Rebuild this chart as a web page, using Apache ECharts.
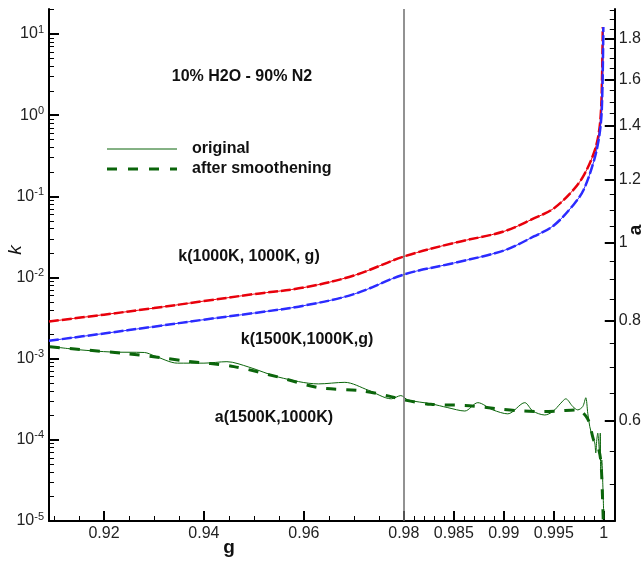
<!DOCTYPE html>
<html><head><meta charset="utf-8">
<script src="https://cdn.jsdelivr.net/npm/echarts@6/dist/echarts.min.js"></script>
<style>html,body{margin:0;padding:0;background:#fff}#c{width:644px;height:562px}</style>
</head><body><div id="c"></div>
<script>
// ---- data ----
const gRed = [0.909, 0.92, 0.93, 0.94, 0.95, 0.96, 0.97, 0.98, 0.985, 0.99, 0.993, 0.995, 0.997, 0.998, 0.999, 0.9995, 0.99973, 0.99983, 0.9999];
const kRed = [2.87e-3, 3.49e-3, 4.20e-3, 5.13e-3, 6.25e-3, 7.53e-3, 1.059e-2, 1.816e-2, 2.667e-2, 3.698e-2, 5.346e-2, 7.112e-2, 0.1219, 0.1816, 0.3396, 0.5998, 1.186, 3.027, 12.19];
const gBlue = [0.909, 0.92, 0.93, 0.94, 0.95, 0.96, 0.97, 0.98, 0.985, 0.99, 0.993, 0.995, 0.997, 0.998, 0.999, 0.9995, 0.99975, 0.99985, 0.99992, 0.99996];
const kBlue = [1.66e-3, 2.046e-3, 2.483e-3, 3.027e-3, 3.648e-3, 4.508e-3, 6.237e-3, 1.089e-2, 1.510e-2, 2.153e-2, 3.206e-2, 4.385e-2, 7.96e-2, 0.1219, 0.2704, 0.5058, 0.918, 1.766, 4.909, 12.19];
const gAOrig = [0.9092, 0.9148, 0.9215, 0.9281, 0.9301, 0.9347, 0.9400, 0.9446, 0.9490, 0.9550, 0.9629, 0.9682, 0.9729, 0.9775, 0.9794, 0.9804, 0.9827, 0.9844, 0.9861, 0.9874, 0.9889, 0.9904, 0.9921, 0.9929, 0.9941, 0.9949, 0.9957, 0.9962, 0.9969, 0.9974, 0.9979, 0.9982, 0.9984, 0.9986, 0.9989, 0.9991, 0.9992, 0.9993, 0.9994, 0.9995, 0.9996, 0.99965, 0.9997, 0.9998, 0.9999, 1.0000];
const aOrig = [0.743, 0.736, 0.731, 0.730, 0.723, 0.708, 0.708, 0.711, 0.700, 0.680, 0.667, 0.670, 0.655, 0.639, 0.645, 0.637, 0.630, 0.623, 0.617, 0.632, 0.619, 0.612, 0.632, 0.617, 0.610, 0.616, 0.631, 0.639, 0.625, 0.619, 0.625, 0.641, 0.613, 0.590, 0.571, 0.563, 0.547, 0.568, 0.579, 0.563, 0.541, 0.579, 0.521, 0.536, 0.502, 0.456];
const gASmooth = [0.9092, 0.9241, 0.9315, 0.9367, 0.9460, 0.9550, 0.9629, 0.9715, 0.9775, 0.9800, 0.9827, 0.9861, 0.9894, 0.9919, 0.9939, 0.9954, 0.9974, 0.9984, 0.9990, 0.9994, 0.9997, 0.99985, 0.99995];
const aSmooth = [0.742, 0.728, 0.719, 0.712, 0.701, 0.680, 0.660, 0.654, 0.643, 0.637, 0.629, 0.627, 0.621, 0.617, 0.616, 0.617, 0.619, 0.603, 0.567, 0.558, 0.535, 0.491, 0.450];
const xMajorTicks = [0.92, 0.94, 0.96, 0.98, 0.985, 0.99, 0.995, 1];
const kMajorExp = [-5, -4, -3, -2, -1, 0, 1];
const aMajorTicks = [0.6, 0.8, 1, 1.2, 1.4, 1.6, 1.8];

// ---- scale helpers: the g axis is stretched x2 beyond 0.98 ----
const tOf = g => g <= 0.98 ? g : 0.98 + 2 * (g - 0.98);
const gOf = t => t <= 0.98 ? t : 0.98 + (t - 0.98) / 2;
const L = Math.log10;
const X_MIN = 0.909, X_MAX = 1.0222;
const KY_MIN = -5, KY_MAX = 1.309;
const AY_MIN = L(0.4498), AY_MAX = L(1.959);

const xMinor = [];
for (let i = 182; i <= 196; i++) { const g = i * 0.005; if (!xMajorTicks.some(m => Math.abs(m - g) < 1e-9)) xMinor.push(tOf(g)); }
for (let i = 981; i <= 1000; i++) { const g = i * 0.001; if (!xMajorTicks.some(m => Math.abs(m - g) < 1e-9)) xMinor.push(tOf(g)); }
const kMinor = [];
for (let n = -5; n <= 1; n++) for (let m = 2; m <= 9; m++) { const v = n + L(m); if (v <= KY_MAX) kMinor.push(v); }
const aMinor = [];
for (let i = 9; i <= 39; i++) { if (i % 4 === 0 && i >= 12 && i <= 36) continue; aMinor.push(L(i * 0.05)); }

const kData = (gs, ks) => gs.map((g, i) => [tOf(g), L(ks[i])]);
const aData = (gs, as) => gs.map((g, i) => [tOf(g), L(as[i])]);

const FONT = 'Liberation Sans, Arial, Helvetica, sans-serif';
const RED = '#e8000b', BLUE = '#2b2bff', GREEN = '#0b650b';

const chart = echarts.init(document.getElementById('c'), null, {renderer: 'canvas'});
const axisLine = {show: true, onZero: false, lineStyle: {color: '#000', width: 2}};
const noLine = {show: false, onZero: false};
chart.setOption({
  animation: false,
  grid: {left: 49, right: 28, top: 9, bottom: 41, containLabel: false},
  xAxis: [{
    type: 'value', min: X_MIN, max: X_MAX, position: 'bottom',
    axisLine: axisLine, splitLine: {show: false},
    axisTick: {show: true, inside: true, length: 10, lineStyle: {color: '#000', width: 2}, customValues: xMajorTicks.map(tOf)},
    axisLabel: {customValues: xMajorTicks.map(tOf), margin: 5, color: '#222', fontSize: 16, fontFamily: FONT,
      formatter: v => String(parseFloat(gOf(v).toFixed(4)))}
  }, {
    type: 'value', min: X_MIN, max: X_MAX, position: 'bottom',
    axisLine: noLine, splitLine: {show: false},
    axisTick: {show: true, inside: true, length: 5, lineStyle: {color: '#000', width: 1}, customValues: xMinor},
    axisLabel: {show: false}
  }],
  yAxis: [{
    type: 'value', min: KY_MIN, max: KY_MAX, position: 'left',
    axisLine: axisLine, splitLine: {show: false},
    axisTick: {show: true, inside: true, length: 10, lineStyle: {color: '#000', width: 2}, customValues: kMajorExp},
    axisLabel: {customValues: kMajorExp, margin: 5, color: '#222', fontFamily: FONT,
      formatter: v => '{b|10}{s|' + Math.round(v) + '}',
      rich: {b: {fontSize: 16, fontFamily: FONT, color: '#222'}, s: {fontSize: 11, fontFamily: FONT, color: '#222', padding: [0, 0, 9, 0]}}}
  }, {
    type: 'value', min: AY_MIN, max: AY_MAX, position: 'right',
    axisLine: axisLine, splitLine: {show: false},
    axisTick: {show: true, inside: true, length: 10, lineStyle: {color: '#000', width: 2}, customValues: aMajorTicks.map(L)},
    axisLabel: {customValues: aMajorTicks.map(L), margin: 4, color: '#222', fontSize: 16, fontFamily: FONT,
      formatter: v => String(Math.round(Math.pow(10, v) * 10) / 10)}
  }, {
    type: 'value', min: KY_MIN, max: KY_MAX, position: 'left',
    axisLine: noLine, splitLine: {show: false},
    axisTick: {show: true, inside: true, length: 5, lineStyle: {color: '#000', width: 1}, customValues: kMinor},
    axisLabel: {show: false}
  }, {
    type: 'value', min: AY_MIN, max: AY_MAX, position: 'right',
    axisLine: noLine, splitLine: {show: false},
    axisTick: {show: true, inside: true, length: 5, lineStyle: {color: '#000', width: 1}, customValues: aMinor},
    axisLabel: {show: false}
  }],
  series: [
    {type: 'line', xAxisIndex: 0, yAxisIndex: 0, data: kData(gRed, kRed), symbol: 'none', smooth: 0.35, lineStyle: {color: RED, width: 1},
      markLine: {silent: true, symbol: 'none', label: {show: false}, lineStyle: {color: '#6e6e6e', width: 1.5, type: 'solid'}, data: [{xAxis: tOf(0.98)}]}},
    {type: 'line', xAxisIndex: 0, yAxisIndex: 0, data: kData(gRed, kRed), symbol: 'none', smooth: 0.35, lineStyle: {color: RED, width: 2.5, type: [10, 3]}},
    {type: 'line', xAxisIndex: 0, yAxisIndex: 0, data: kData(gBlue, kBlue), symbol: 'none', smooth: 0.35, lineStyle: {color: BLUE, width: 1}},
    {type: 'line', xAxisIndex: 0, yAxisIndex: 0, data: kData(gBlue, kBlue), symbol: 'none', smooth: 0.35, lineStyle: {color: BLUE, width: 2.5, type: [10, 3]}},
    {type: 'line', xAxisIndex: 0, yAxisIndex: 1, data: aData(gAOrig, aOrig), symbol: 'none', smooth: 0.3, lineStyle: {color: GREEN, width: 1}},
    {type: 'line', xAxisIndex: 0, yAxisIndex: 1, data: aData(gASmooth, aSmooth), symbol: 'none', smooth: 0.3, lineStyle: {color: GREEN, width: 3, type: [10, 10]}}
  ],
  graphic: [
    {type: 'line', shape: {x1: 107, y1: 149, x2: 177, y2: 149}, style: {stroke: GREEN, lineWidth: 1}},
    {type: 'line', shape: {x1: 107, y1: 169, x2: 177, y2: 169}, style: {stroke: GREEN, lineWidth: 3, lineDash: [10, 11]}},
    {type: 'text', x: 192, y: 149, style: {text: 'original', font: 'bold 16px ' + FONT, fill: '#111', verticalAlign: 'middle'}},
    {type: 'text', x: 192, y: 169, style: {text: 'after smoothening', font: 'bold 16px ' + FONT, fill: '#111', verticalAlign: 'middle'}},
    {type: 'text', x: 242, y: 77, style: {text: '10% H2O - 90% N2', font: 'bold 16px ' + FONT, fill: '#111', align: 'center', verticalAlign: 'middle'}},
    {type: 'text', x: 249, y: 257, style: {text: 'k(1000K, 1000K, g)', font: 'bold 16px ' + FONT, fill: '#111', align: 'center', verticalAlign: 'middle'}},
    {type: 'text', x: 307, y: 340, style: {text: 'k(1500K,1000K,g)', font: 'bold 16px ' + FONT, fill: '#111', align: 'center', verticalAlign: 'middle'}},
    {type: 'text', x: 274, y: 418, style: {text: 'a(1500K,1000K)', font: 'bold 16px ' + FONT, fill: '#111', align: 'center', verticalAlign: 'middle'}},
    {type: 'text', x: 229, y: 548, style: {text: 'g', font: 'bold 19px ' + FONT, fill: '#111', align: 'center', verticalAlign: 'middle'}},
    {type: 'text', x: 16, y: 250, rotation: Math.PI / 2, style: {text: 'k', font: 'italic 19px ' + FONT, fill: '#111', align: 'center', verticalAlign: 'middle'}},
    {type: 'text', x: 636, y: 230, rotation: Math.PI / 2, style: {text: 'a', font: 'bold 19px ' + FONT, fill: '#111', align: 'center', verticalAlign: 'middle'}}
  ]
});
</script></body></html>
